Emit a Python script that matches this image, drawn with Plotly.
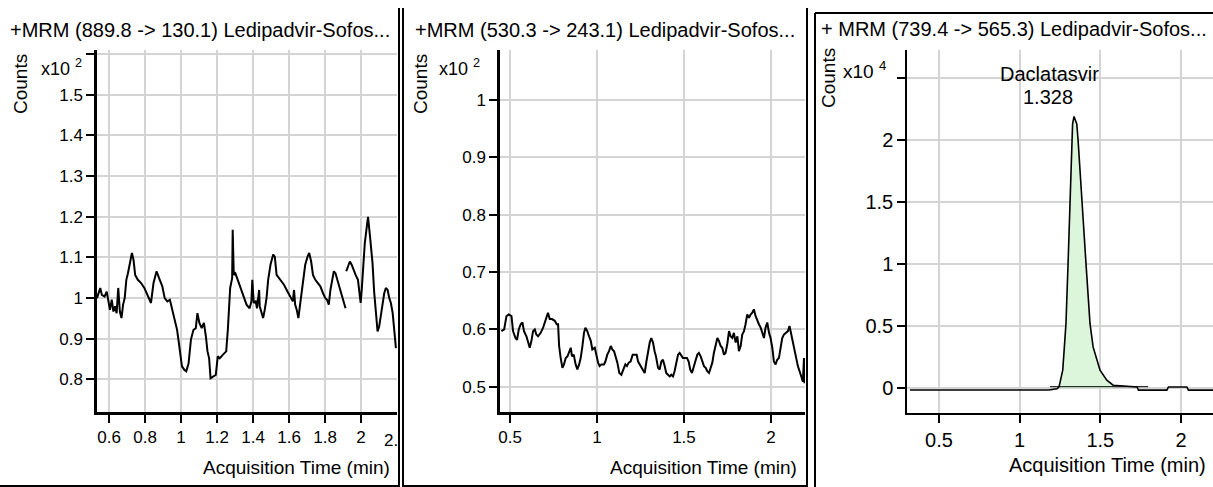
import plotly.graph_objects as go

W, H = 1213, 487

# ---------------- data (counts shown in the axis units: x10^2, x10^2, x10^4) ----------------
time1 = [0.533, 0.551, 0.560, 0.575, 0.587, 0.596, 0.605, 0.615, 0.624, 0.633,
         0.642, 0.651, 0.660, 0.669, 0.678, 0.687, 0.696, 0.705, 0.715, 0.727,
         0.736, 0.745, 0.760, 0.778, 0.796, 0.815, 0.833, 0.847, 0.864, 0.878,
         0.896, 0.909, 0.924, 0.938, 0.951, 0.965, 0.978, 0.987, 0.996, 1.005,
         1.018, 1.029, 1.042, 1.055, 1.069, 1.082, 1.091, 1.102, 1.115, 1.127,
         1.138, 1.147, 1.156, 1.164, 1.178, 1.193, 1.204, 1.215, 1.233, 1.251,
         1.260, 1.273, 1.284, 1.287, 1.293, 1.302, 1.315, 1.333, 1.351, 1.364,
         1.381, 1.391, 1.396, 1.404, 1.415, 1.422, 1.434, 1.437, 1.447, 1.456,
         1.465, 1.475, 1.484, 1.497, 1.512, 1.521, 1.531, 1.546, 1.559, 1.572,
         1.587, 1.596, 1.609, 1.621, 1.628, 1.634, 1.643, 1.652, 1.665, 1.677,
         1.690, 1.703, 1.712, 1.723, 1.733, 1.746, 1.759, 1.774, 1.789, 1.802,
         1.811, 1.821, 1.830, 1.839, 1.849, 1.858, 1.871, 1.886, 1.895, 1.905,
         1.914, 1.916, 1.918, 1.927, 1.938, 1.948, 1.957, 1.970, 1.983, 1.993,
         1.998, 2.004, 2.011, 2.021, 2.030, 2.039, 2.050, 2.064, 2.073, 2.082,
         2.092, 2.101, 2.110, 2.120, 2.129, 2.138, 2.148, 2.157, 2.166, 2.176,
         2.185, 2.194]
counts1 = [1.000, 1.025, 1.008, 1.004, 1.016, 0.992, 0.971, 0.996, 0.967, 0.980,
           0.963, 1.025, 0.967, 0.951, 0.984, 1.000, 1.045, 1.061, 1.082, 1.111,
           1.094, 1.057, 1.045, 1.037, 1.025, 1.008, 0.988, 1.037, 1.066, 1.049,
           1.029, 1.000, 0.992, 0.996, 0.971, 0.947, 0.922, 0.893, 0.857, 0.832,
           0.824, 0.820, 0.840, 0.898, 0.922, 0.926, 0.963, 0.939, 0.926, 0.939,
           0.906, 0.869, 0.852, 0.803, 0.807, 0.811, 0.857, 0.852, 0.861, 0.869,
           0.922, 1.025, 1.049, 1.168, 1.057, 1.061, 1.045, 1.020, 1.000, 0.984,
           0.975, 0.992, 1.045, 0.988, 0.992, 0.975, 1.020, 0.980, 0.967, 0.951,
           0.971, 1.000, 1.045, 1.082, 1.107, 1.102, 1.057, 1.049, 1.041, 1.033,
           1.020, 1.012, 1.000, 0.992, 1.020, 0.984, 0.971, 0.951, 0.996, 1.045,
           1.082, 1.102, 1.111, 1.090, 1.057, 1.045, 1.037, 1.029, 1.012, 1.000,
           0.996, 0.984, 1.020, 1.041, 1.066, 1.061, 1.041, 1.020, 1.008, 0.988,
           0.975, None, 1.066, 1.078, 1.090, 1.082, 1.070, 1.057, 1.045, 0.996,
           0.988, 1.020, 1.078, 1.135, 1.168, 1.200, 1.152, 1.086, 1.016, 0.971,
           0.918, 0.930, 0.955, 0.988, 1.012, 1.025, 1.020, 1.000, 0.988, 0.963,
           0.922, 0.877]

time2 = [0.450, 0.466, 0.479, 0.492, 0.508, 0.517, 0.531, 0.540, 0.550, 0.561,
         0.571, 0.580, 0.594, 0.603, 0.613, 0.623, 0.632, 0.642, 0.651, 0.661,
         0.676, 0.690, 0.699, 0.709, 0.718, 0.728, 0.741, 0.757, 0.768, 0.776,
         0.782, 0.791, 0.801, 0.810, 0.820, 0.830, 0.839, 0.849, 0.856, 0.866,
         0.877, 0.887, 0.897, 0.906, 0.916, 0.925, 0.933, 0.944, 0.954, 0.964,
         0.973, 0.987, 0.996, 1.006, 1.015, 1.025, 1.040, 1.048, 1.059, 1.069,
         1.079, 1.088, 1.098, 1.107, 1.117, 1.128, 1.140, 1.151, 1.163, 1.172,
         1.182, 1.193, 1.205, 1.216, 1.228, 1.236, 1.245, 1.255, 1.264, 1.274,
         1.284, 1.293, 1.303, 1.312, 1.322, 1.331, 1.339, 1.351, 1.360, 1.370,
         1.379, 1.389, 1.398, 1.408, 1.418, 1.427, 1.437, 1.446, 1.456, 1.466,
         1.475, 1.485, 1.494, 1.504, 1.517, 1.527, 1.536, 1.546, 1.556, 1.565,
         1.577, 1.586, 1.596, 1.605, 1.615, 1.625, 1.634, 1.644, 1.653, 1.663,
         1.672, 1.682, 1.692, 1.701, 1.711, 1.720, 1.730, 1.739, 1.749, 1.759,
         1.768, 1.778, 1.787, 1.797, 1.807, 1.816, 1.826, 1.835, 1.845, 1.854,
         1.864, 1.874, 1.883, 1.893, 1.902, 1.912, 1.921, 1.931, 1.941, 1.950,
         1.960, 1.969, 1.979, 1.989, 1.998, 2.008, 2.017, 2.027, 2.036, 2.046,
         2.056, 2.065, 2.075, 2.088, 2.098, 2.107, 2.117, 2.126, 2.136, 2.146,
         2.155, 2.165, 2.174, 2.184, 2.190, 2.193]
counts2 = [0.597, 0.600, 0.623, 0.626, 0.623, 0.597, 0.585, 0.582, 0.600, 0.609,
           0.612, 0.597, 0.588, 0.577, 0.568, 0.580, 0.597, 0.600, 0.591, 0.588,
           0.594, 0.603, 0.612, 0.620, 0.629, 0.618, 0.618, 0.615, 0.609, 0.609,
           0.571, 0.550, 0.533, 0.539, 0.550, 0.553, 0.562, 0.568, 0.553, 0.556,
           0.539, 0.530, 0.539, 0.550, 0.571, 0.594, 0.603, 0.597, 0.588, 0.580,
           0.565, 0.568, 0.556, 0.542, 0.536, 0.539, 0.539, 0.544, 0.556, 0.562,
           0.571, 0.565, 0.562, 0.553, 0.542, 0.524, 0.521, 0.530, 0.539, 0.536,
           0.542, 0.544, 0.556, 0.556, 0.556, 0.544, 0.539, 0.536, 0.530, 0.524,
           0.544, 0.562, 0.577, 0.585, 0.577, 0.562, 0.553, 0.533, 0.530, 0.544,
           0.547, 0.536, 0.524, 0.521, 0.518, 0.521, 0.518, 0.527, 0.542, 0.556,
           0.559, 0.553, 0.550, 0.550, 0.550, 0.544, 0.530, 0.524, 0.533, 0.544,
           0.556, 0.559, 0.553, 0.544, 0.536, 0.533, 0.527, 0.524, 0.533, 0.542,
           0.559, 0.571, 0.585, 0.580, 0.571, 0.568, 0.556, 0.559, 0.574, 0.597,
           0.588, 0.585, 0.594, 0.577, 0.588, 0.562, 0.571, 0.591, 0.597, 0.609,
           0.626, 0.620, 0.626, 0.629, 0.635, 0.623, 0.615, 0.609, 0.603, 0.594,
           0.585, 0.603, 0.612, 0.594, 0.585, 0.568, 0.544, 0.539, 0.547, 0.550,
           0.568, 0.585, 0.591, 0.594, 0.597, 0.606, 0.591, 0.577, 0.562, 0.547,
           0.536, 0.527, 0.518, 0.509, 0.550, 0.506]

time3 = [0.320, 1.180, 1.232, 1.244, 1.267, 1.287, 1.300, 1.312, 1.323, 1.328,
         1.337, 1.354, 1.362, 1.385, 1.411, 1.436, 1.455, 1.498, 1.540, 1.579,
         1.728, 1.736, 1.912, 1.922, 2.036, 2.046, 2.199]
counts3 = [-0.015, -0.015, -0.005, 0.010, 0.145, 0.520, 1.006, 1.490, 2.000, 2.130,
           2.190, 2.130, 2.000, 1.490, 1.006, 0.520, 0.333, 0.145, 0.065, 0.024,
           0.010, -0.016, -0.016, 0.010, 0.010, -0.016, -0.016]
peak_start, peak_end = 3, 20          # indices of the integrated peak in time3
base_time3 = [1.188, 1.796]           # integration baseline
base_counts3 = [0.012, 0.012]

titles = ["+MRM (889.8 -> 130.1) Ledipadvir-Sofos...",
          "+MRM (530.3 -> 243.1) Ledipadvir-Sofos...",
          "+ MRM (739.4 -> 565.3) Ledipadvir-Sofos..."]
ticks1_x = [0.6, 0.8, 1.0, 1.2, 1.4, 1.6, 1.8, 2.0]
ticks1_xt = ["0.6", "0.8", "1", "1.2", "1.4", "1.6", "1.8", "2"]
ticks1_y = [0.8, 0.9, 1.0, 1.1, 1.2, 1.3, 1.4, 1.5, 1.6]
ticks1_yt = ["0.8", "0.9", "1", "1.1", "1.2", "1.3", "1.4", "1.5", ""]
ticks2_x = [0.5, 1.0, 1.5, 2.0]
ticks2_xt = ["0.5", "1", "1.5", "2"]
ticks2_y = [0.5, 0.6, 0.7, 0.8, 0.9, 1.0]
ticks2_yt = ["0.5", "0.6", "0.7", "0.8", "0.9", "1"]
ticks3_x = [0.5, 1.0, 1.5, 2.0]
ticks3_xt = ["0.5", "1", "1.5", "2"]
ticks3_y = [0, 0.5, 1.0, 1.5, 2.0, 2.5]
ticks3_yt = ["0", "0.5", "1", "1.5", "2", ""]

# ---------------- helpers (layout positions) ----------------
def px(x):
    return x / W

def py(y):
    return 1 - y / H

SANS = "Liberation Sans, Arial, sans-serif"

fig = go.Figure()
fig.add_trace(go.Scatter(x=time1, y=counts1, mode="lines", line=dict(color="black", width=2),
                         xaxis="x", yaxis="y", connectgaps=False, showlegend=False))
fig.add_trace(go.Scatter(x=time2, y=counts2, mode="lines", line=dict(color="black", width=2),
                         xaxis="x2", yaxis="y2", showlegend=False))
fig.add_trace(go.Scatter(x=time3[peak_start:peak_end], y=counts3[peak_start:peak_end], mode="lines",
                         line=dict(color="rgba(0,0,0,0)", width=0), fill="tozeroy",
                         fillcolor="#dcf6dc", xaxis="x3", yaxis="y3", showlegend=False))
fig.add_trace(go.Scatter(x=base_time3, y=base_counts3, mode="lines", line=dict(color="black", width=1),
                         xaxis="x3", yaxis="y3", showlegend=False))
fig.add_trace(go.Scatter(x=time3, y=counts3, mode="lines", line=dict(color="black", width=1.6),
                         xaxis="x3", yaxis="y3", showlegend=False))

ydom12 = [py(412), py(50)]
ydom3 = [py(413), py(50)]

def xax(domain, rng, tv, tt, anchor, fsize, lw):
    return dict(domain=domain, range=rng, tickmode="array", tickvals=tv, ticktext=tt,
                anchor=anchor, showline=True, linecolor="black", linewidth=lw,
                ticks="outside", ticklen=8, tickwidth=2, tickcolor="black",
                showgrid=True, gridcolor="#d4d4d4", gridwidth=2, zeroline=False,
                automargin=False, layer="below traces",
                tickfont=dict(family=SANS, size=fsize, color="black"), fixedrange=True)

fig.update_layout(
    width=W, height=H, margin=dict(l=0, r=0, t=0, b=0, autoexpand=False),
    paper_bgcolor="white", plot_bgcolor="white",
    xaxis=xax([px(97), px(397)], [0.533, 2.2], ticks1_x, ticks1_xt, "y", 17, 2.5),
    yaxis=xax(ydom12, [0.72, 1.61], ticks1_y, ticks1_yt, "x", 17, 2.5),
    xaxis2=xax([px(500), px(805)], [0.442, 2.196], ticks2_x, ticks2_xt, "y2", 17, 2.5),
    yaxis2=xax(ydom12, [0.456, 1.087], ticks2_y, ticks2_yt, "x2", 17, 2.5),
    xaxis3=xax([px(907), px(1213)], [0.302, 2.198], ticks3_x, ticks3_xt, "y3", 20, 1.5),
    yaxis3=xax(ydom3, [-0.2, 2.726], ticks3_y, ticks3_yt, "x3", 20, 1.5),
)

# panel frames
frames = [
    (399, 8, 399, 487), (0, 486, 399, 486),
    (403, 8, 403, 487), (807, 8, 807, 487), (403, 486, 807, 486),
    (815, 13, 815, 487), (815, 13, 1213, 13),
]
for x0, y0, x1, y1 in frames:
    fig.add_shape(type="line", xref="paper", yref="paper", x0=px(x0), y0=py(y0), x1=px(x1), y1=py(y1),
                  line=dict(color="black", width=2))

def ann(text, x, y, size, xanchor="center", angle=0):
    fig.add_annotation(text=text, x=px(x), y=py(y), xref="paper", yref="paper", showarrow=False,
                       xanchor=xanchor, yanchor="middle", textangle=angle,
                       font=dict(family=SANS, size=size, color="black"))

ann(titles[0], 8, 30, 20, xanchor="left")
ann(titles[1], 413, 30, 20, xanchor="left")
ann(titles[2], 819, 29, 20, xanchor="left")
ann("Counts", 20, 84, 19, angle=-90)
ann("Counts", 420, 84, 19, angle=-90)
ann("Counts", 828, 78, 19, angle=-90)
ann("x10 <sup>2</sup>", 84, 68, 18, xanchor="right")
ann("x10 <sup>2</sup>", 482, 68, 18, xanchor="right")
ann("x10 <sup>4</sup>", 888, 70, 19, xanchor="right")
ann("Acquisition Time (min)", 392, 467, 19, xanchor="right")
ann("Acquisition Time (min)", 799, 467, 19, xanchor="right")
ann("Acquisition Time (min)", 1208, 465, 20, xanchor="right")
ann("2.", 391, 440, 17)
ann("Daclatasvir", 1049, 74, 20)
ann("1.328", 1048, 97, 20)

fig.write_html("out.html", config={"displayModeBar": False},
               post_script="document.body.style.margin='0';document.body.style.overflow='hidden';")
